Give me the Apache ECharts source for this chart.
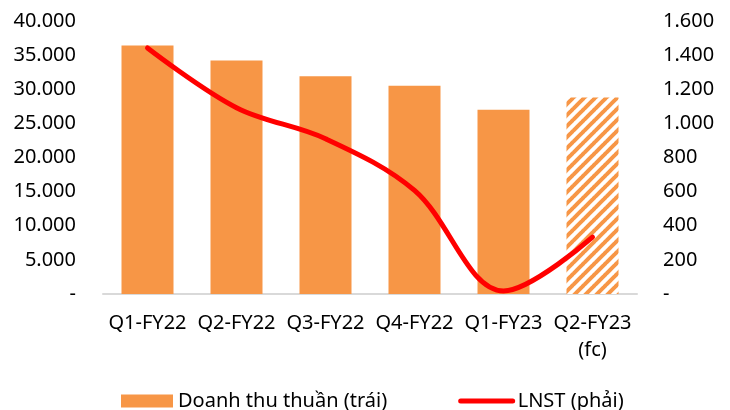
<!DOCTYPE html>
<html>
<head>
<meta charset="utf-8">
<script src="https://cdn.jsdelivr.net/npm/echarts@6/dist/echarts.min.js"></script>
<style>
  html, body { margin: 0; padding: 0; background: #ffffff; }
  #chart { width: 730px; height: 410px; }
</style>
</head>
<body>
<div id="chart"></div>
<script>
// Quarterly net revenue (left axis) and net profit after tax (right axis)
const categories = ['Q1-FY22', 'Q2-FY22', 'Q3-FY22', 'Q4-FY22', 'Q1-FY23', 'Q2-FY23\n(fc)'];
const revenue = [36400, 34200, 31900, 30500, 27000, 28800];
const profit = [1442, 1092, 910, 607, 18, 333];
const forecastIndex = 5;

const leftTicks = { min: 0, max: 40000, interval: 5000 };
const rightTicks = { min: 0, max: 1600, interval: 200 };

const ORANGE = '#F79646';
const RED = '#FF0000';
const FONT = 'Noto Sans';

// Diagonal hatch used for the forecast bar
function hatchPattern() {
  const p = 11;
  const c = document.createElement('canvas');
  c.width = p; c.height = p;
  const ctx = c.getContext('2d');
  ctx.fillStyle = '#ffffff';
  ctx.fillRect(0, 0, p, p);
  ctx.strokeStyle = ORANGE;
  ctx.lineWidth = 4;
  for (let k = -1; k <= 1; k++) {
    ctx.beginPath();
    ctx.moveTo(k * p - 1, p + 1);
    ctx.lineTo(k * p + p + 1, -1);
    ctx.stroke();
  }
  return { image: c, repeat: 'repeat' };
}

// Thousands separator "." and a dash for zero
function fmt(v) {
  if (v === 0) return '-';
  return String(v).replace(/\B(?=(\d{3})+(?!\d))/g, '.');
}

const barData = revenue.map((v, i) => i === forecastIndex
  ? { value: v, itemStyle: { color: hatchPattern() } }
  : v);

const chart = echarts.init(document.getElementById('chart'), null, { renderer: 'canvas' });
chart.setOption({
  animation: false,
  backgroundColor: '#ffffff',
  textStyle: { fontFamily: FONT, color: '#000' },
  grid: { left: 103, right: 93, top: 21, bottom: 116, containLabel: false },
  legend: {
    left: 116,
    top: 386,
    itemWidth: 52,
    itemHeight: 13,
    itemGap: 71,
    textStyle: { fontFamily: FONT, fontSize: 20, color: '#000', padding: [0, 0, 0, 0] },
    data: [
      { name: 'Doanh thu thuần (trái)', icon: 'rect', itemStyle: { color: ORANGE } },
      { name: 'LNST (phải)', itemStyle: { color: RED, opacity: 0 }, lineStyle: { color: RED, width: 5, cap: 'round' } }
    ]
  },
  xAxis: {
    type: 'category',
    data: categories,
    axisLine: { lineStyle: { color: '#D9D9D9', width: 2 } },
    axisTick: { show: false },
    axisLabel: { fontFamily: FONT, fontSize: 20, color: '#000', margin: 16, lineHeight: 27, interval: 0 }
  },
  yAxis: [
    {
      type: 'value',
      min: leftTicks.min, max: leftTicks.max, interval: leftTicks.interval,
      axisLine: { show: false },
      axisTick: { show: false },
      splitLine: { show: false },
      axisLabel: { fontFamily: FONT, fontSize: 20, color: '#000', margin: 27, formatter: fmt }
    },
    {
      type: 'value',
      min: rightTicks.min, max: rightTicks.max, interval: rightTicks.interval,
      axisLine: { show: false },
      axisTick: { show: false },
      splitLine: { show: false },
      axisLabel: { fontFamily: FONT, fontSize: 20, color: '#000', margin: 26, formatter: fmt }
    }
  ],
  series: [
    {
      name: 'Doanh thu thuần (trái)',
      type: 'bar',
      yAxisIndex: 0,
      barWidth: 52,
      itemStyle: { color: ORANGE },
      data: barData
    },
    {
      name: 'LNST (phải)',
      type: 'line',
      yAxisIndex: 1,
      smooth: 0.35,
      symbol: 'none',
      clip: false,
      itemStyle: { color: RED },
      lineStyle: { color: RED, width: 5, cap: 'round' },
      data: profit
    }
  ]
});
</script>
</body>
</html>
